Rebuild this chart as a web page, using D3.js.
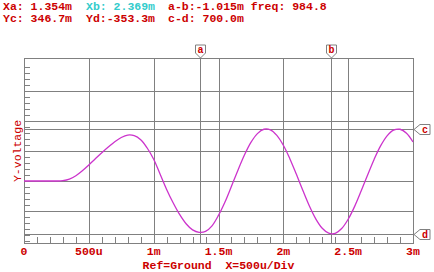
<!DOCTYPE html>
<html>
<head>
<meta charset="utf-8">
<script src="https://cdn.jsdelivr.net/npm/d3@7"></script>
<style>
  body { margin: 0; background: #fff; }
  svg text { font-family: "Courier New", "Liberation Mono", monospace; }
</style>
</head>
<body>
<svg id="chart" width="434" height="272"></svg>
<script>
// time in ms, voltage in V
var times = [0, 0.05, 0.10, 0.15, 0.20, 0.25, 0.30, 0.35, 0.40, 0.45,
             0.50, 0.55, 0.60, 0.65, 0.70, 0.75, 0.80, 0.85, 0.90, 0.95,
             1.00, 1.05, 1.10, 1.15, 1.20, 1.25, 1.30, 1.35, 1.40, 1.45,
             1.50, 1.55, 1.60, 1.65, 1.70, 1.75, 1.80, 1.85, 1.90, 1.95,
             2.00, 2.05, 2.10, 2.15, 2.20, 2.25, 2.30, 2.35, 2.40, 2.45,
             2.50, 2.55, 2.60, 2.65, 2.70, 2.75, 2.80, 2.85, 2.90, 2.95, 3.00];
var volts = [0, 0, 0, 0, 0, 0, 0.002, 0.012, 0.035, 0.068,
             0.107, 0.148, 0.188, 0.226, 0.262, 0.290, 0.306, 0.302, 0.275, 0.220,
             0.145, 0.045, -0.056, -0.145, -0.223, -0.285, -0.326, -0.342, -0.336, -0.299,
             -0.229, -0.140, -0.035, 0.072, 0.173, 0.257, 0.316, 0.345, 0.341, 0.304,
             0.238, 0.149, 0.046, -0.062, -0.165, -0.252, -0.315, -0.348, -0.349, -0.317,
             -0.255, -0.169, -0.067, 0.040, 0.144, 0.234, 0.301, 0.339, 0.345, 0.318, 0.260];

var xTickVals = [0, 0.5, 1, 1.5, 2, 2.5, 3];
var xTickLabels = ['0', '500u', '1m', '1.5m', '2m', '2.5m', '3m'];
var yGridVals = [-0.2, 0, 0.2, 0.4, 0.6];

var cursorsX = [{name: 'a', t: 1.354}, {name: 'b', t: 2.369}];
var cursorsY = [{name: 'c', v: 0.3467}, {name: 'd', v: -0.3533}];

var header1 = [{text: 'Xa: 1.354m', x: 3, color: '#cc0000'},
               {text: 'Xb: 2.369m', x: 86, color: '#33cccc'},
               {text: 'a-b:-1.015m freq: 984.8', x: 168, color: '#cc0000'}];
var header2 = [{text: 'Yc: 346.7m', x: 3, color: '#cc0000'},
               {text: 'Yd:-353.3m', x: 86, color: '#cc0000'},
               {text: 'c-d: 700.0m', x: 168, color: '#cc0000'}];

(function() {
    var red = '#cc0000', grid = '#808080', trace = '#cc33cc';
    var pl = 24, pr = 413, pt = 58, pb = 243;

    var svg = d3.select('#chart');

    var x = d3.scaleLinear().domain([0, 3]).range([pl, pr]);
    // 0 V sits at y=181, 150 px per volt
    var y = d3.scaleLinear().domain([-0.4133, 0.82]).range([pb, pt]);

    // header readouts
    svg.append('g').selectAll('text').data(header1).enter().append('text')
        .attr('x', function(d) {return d.x;}).attr('y', 10)
        .attr('fill', function(d) {return d.color;})
        .style('font-size', '11.5px').style('font-weight', 'bold')
        .text(function(d) {return d.text;});
    svg.append('g').selectAll('text').data(header2).enter().append('text')
        .attr('x', function(d) {return d.x;}).attr('y', 22)
        .attr('fill', function(d) {return d.color;})
        .style('font-size', '11.5px').style('font-weight', 'bold')
        .text(function(d) {return d.text;});

    var g = svg.append('g').attr('shape-rendering', 'crispEdges');

    // frame
    g.append('rect').attr('x', pl + 0.5).attr('y', pt + 0.5)
        .attr('width', pr - pl).attr('height', pb - pt)
        .attr('fill', 'none').attr('stroke', grid);

    // grid
    g.selectAll('.vg').data(xTickVals.slice(1, -1)).enter().append('line')
        .attr('x1', function(d) {return Math.round(x(d)) + 0.5;})
        .attr('x2', function(d) {return Math.round(x(d)) + 0.5;})
        .attr('y1', pt).attr('y2', pb).attr('stroke', grid);
    g.selectAll('.hg').data(yGridVals).enter().append('line')
        .attr('y1', function(d) {return Math.round(y(d)) + 0.5;})
        .attr('y2', function(d) {return Math.round(y(d)) + 0.5;})
        .attr('x1', pl).attr('x2', pr).attr('stroke', grid);

    // minor ticks
    var xMinor = d3.range(0.1, 3, 0.1);
    g.selectAll('.xm').data(xMinor).enter().append('line')
        .attr('x1', function(d) {return Math.round(x(d)) + 0.5;})
        .attr('x2', function(d) {return Math.round(x(d)) + 0.5;})
        .attr('y1', pb - 6).attr('y2', pb).attr('stroke', grid);
    var yMinor = d3.range(-0.40, 0.77, 0.04);
    g.selectAll('.ym').data(yMinor).enter().append('line')
        .attr('y1', function(d) {return Math.round(y(d)) + 0.5;})
        .attr('y2', function(d) {return Math.round(y(d)) + 0.5;})
        .attr('x1', pl).attr('x2', pl + 6).attr('stroke', grid);

    // cursor lines
    g.selectAll('.cx').data(cursorsX).enter().append('line')
        .attr('x1', function(d) {return Math.round(x(d.t)) + 0.5;})
        .attr('x2', function(d) {return Math.round(x(d.t)) + 0.5;})
        .attr('y1', pt).attr('y2', pb).attr('stroke', grid);
    g.selectAll('.cy').data(cursorsY).enter().append('line')
        .attr('y1', function(d) {return Math.round(y(d.v)) + 0.5;})
        .attr('y2', function(d) {return Math.round(y(d.v)) + 0.5;})
        .attr('x1', pl).attr('x2', pr).attr('stroke', grid);

    // trace
    var pts = times.map(function(t, i) {return [t, volts[i]];});
    svg.append('path').datum(pts)
        .attr('fill', 'none').attr('stroke', trace).attr('stroke-width', 1.3)
        .attr('d', d3.line()
            .x(function(d) {return x(d[0]);})
            .y(function(d) {return y(d[1]);})
            .curve(d3.curveCatmullRom));

    // cursor flags
    cursorsX.forEach(function(d) {
        var cx = Math.round(x(d.t)) + 0.5;
        svg.append('path')
            .attr('d', 'M' + (cx - 5) + ',45 L' + (cx + 5) + ',45 L' + (cx + 5) + ',53 L' + cx + ',58 L' + (cx - 5) + ',53 Z')
            .attr('fill', '#fff').attr('stroke', grid);
        svg.append('text').attr('x', cx).attr('y', 53)
            .attr('text-anchor', 'middle').attr('fill', red)
            .style('font-size', '10px').style('font-weight', 'bold').text(d.name);
    });
    cursorsY.forEach(function(d) {
        var cy = Math.round(y(d.v)) + 0.5;
        svg.append('path')
            .attr('d', 'M' + (pr + 1) + ',' + cy + ' L' + (pr + 7) + ',' + (cy - 5) + ' L' + (pr + 17) + ',' + (cy - 5) +
                  ' L' + (pr + 17) + ',' + (cy + 5) + ' L' + (pr + 7) + ',' + (cy + 5) + ' Z')
            .attr('fill', '#fff').attr('stroke', grid);
        svg.append('text').attr('x', pr + 12).attr('y', cy + 3.5)
            .attr('text-anchor', 'middle').attr('fill', red)
            .style('font-size', '10px').style('font-weight', 'bold').text(d.name);
    });

    // x tick labels
    svg.append('g').selectAll('text').data(xTickVals).enter().append('text')
        .attr('x', function(d) {return x(d);}).attr('y', 255)
        .attr('text-anchor', 'middle').attr('fill', red)
        .style('font-size', '11.5px').style('font-weight', 'bold')
        .text(function(d, i) {return xTickLabels[i];});

    svg.append('text').attr('x', (pl + pr) / 2).attr('y', 269)
        .attr('text-anchor', 'middle').attr('fill', red)
        .attr('xml:space', 'preserve')
        .style('font-size', '11.5px').style('font-weight', 'bold')
        .text('Ref=Ground  X=500u/Div');

    svg.append('text')
        .attr('transform', 'translate(20.5,151) rotate(-90)')
        .attr('text-anchor', 'middle').attr('fill', red)
        .style('font-size', '11.5px')
        .text('Y-voltage');
})();
</script>
</body>
</html>
